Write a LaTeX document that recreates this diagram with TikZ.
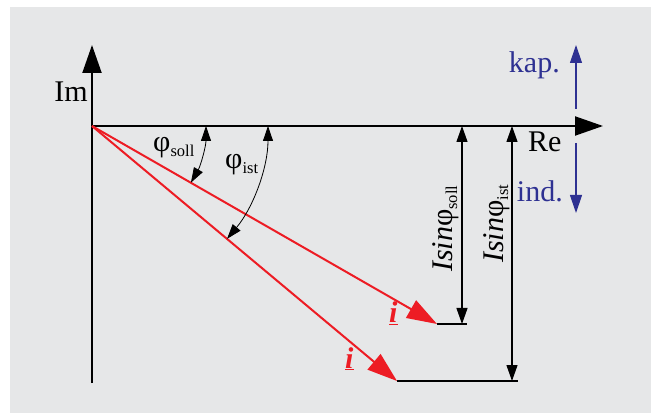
\documentclass[tikz,border=0pt]{standalone}
\usepackage{fontspec}
\setmainfont{Liberation Serif}
\usetikzlibrary{arrows.meta}
\definecolor{bg}{RGB}{230,231,232}
\definecolor{vred}{RGB}{237,28,36}
\definecolor{vblue}{RGB}{46,49,146}
\newcommand{\subtxt}[1]{\raisebox{-5pt}{\fontsize{16.5}{16.5}\selectfont #1}}
\begin{document}
\begin{tikzpicture}[x=1pt,y=-1pt,
  lbl/.style={inner sep=0pt,font=\fontsize{30}{30}\selectfont},
  axis/.style={line width=2pt,-{Triangle[length=28pt,width=19pt]}},
  phasor/.style={vred,line width=2pt,-{Triangle[length=30pt,width=20pt]}},
  dimline/.style={line width=1.2pt,{Triangle[length=16pt,width=11pt]}-{Triangle[length=16pt,width=11pt]}},
  baseline/.style={line width=1.2pt},
  ang/.style={line width=0.8pt,{Triangle[length=15pt,width=10pt]}-{Triangle[length=15pt,width=10pt]}},
  sense/.style={vblue,line width=1.2pt,-{Triangle[length=18pt,width=12pt]}}
  ]
\useasboundingbox (0,0) rectangle (651,414);
\fill[bg] (10,7) rectangle (651,413);
% axes
\coordinate (O) at (92,126);
\coordinate (ImEnd) at (92,45);
\coordinate (ImStart) at (92,383);
\coordinate (ReStart) at (91,126);
\coordinate (ReEnd) at (603,126);
\draw[axis] (ImStart) -- (ImEnd);
\draw[axis] (ReStart) -- (ReEnd);
% phasors
\coordinate (Psoll) at (437,324);
\coordinate (Pist) at (397,381);
\coordinate (Bsoll) at (467,324);
\coordinate (Bist) at (518,381);
\draw[baseline] (Psoll) -- (Bsoll);
\draw[baseline] (Pist) -- (Bist);
\draw[phasor] (O) -- (Psoll);
\draw[phasor] (O) -- (Pist);
% dimension lines
\coordinate (DsollT) at (462,126);
\coordinate (DsollB) at (462,324);
\coordinate (DistT) at (512,126);
\coordinate (DistB) at (512,381);
\draw[dimline] (DsollT) -- (DsollB);
\draw[dimline] (DistT) -- (DistB);
% angle arcs
\coordinate (Asoll) at (206,126);
\coordinate (Aist) at (268,126);
\draw[ang] (Asoll) arc[start angle=0,end angle=29.8,radius=114];
\draw[ang] (Aist) arc[start angle=0,end angle=39.9,radius=176];
% kap / ind arrows
\coordinate (KapS) at (576,109);
\coordinate (KapE) at (576,45);
\coordinate (IndS) at (576,143);
\coordinate (IndE) at (576,213);
\draw[sense] (KapS) -- (KapE);
\draw[sense] (IndS) -- (IndE);
% labels
\node[lbl,anchor=base east] (im) at (88,102) {Im};
\node[lbl,anchor=base west] (re) at (528,152) {Re};
\node[lbl,text=vblue,anchor=base east] (kap) at (560,73) {kap.};
\node[lbl,text=vblue,anchor=base east] (ind) at (563,202) {ind.};
\node[lbl,anchor=base west] (phisoll) at (153,152) {φ\subtxt{soll}};
\node[lbl,anchor=base west] (phiist) at (225,169) {φ\subtxt{ist}};
\node[lbl,rotate=90,anchor=base west] (isoll) at (452,272) {\textit{Isin}φ\subtxt{soll}};
\node[lbl,rotate=90,anchor=base west] (iist) at (503,263) {\textit{Isin}φ\subtxt{ist}};
\node[lbl,text=vred,anchor=base west] (isym) at (389,323) {\underline{\textbf{\textit{i}}}};
\node[lbl,text=vred,anchor=base west] (iisym) at (345,368) {\underline{\textbf{\textit{i}}}};
\end{tikzpicture}
\end{document}
